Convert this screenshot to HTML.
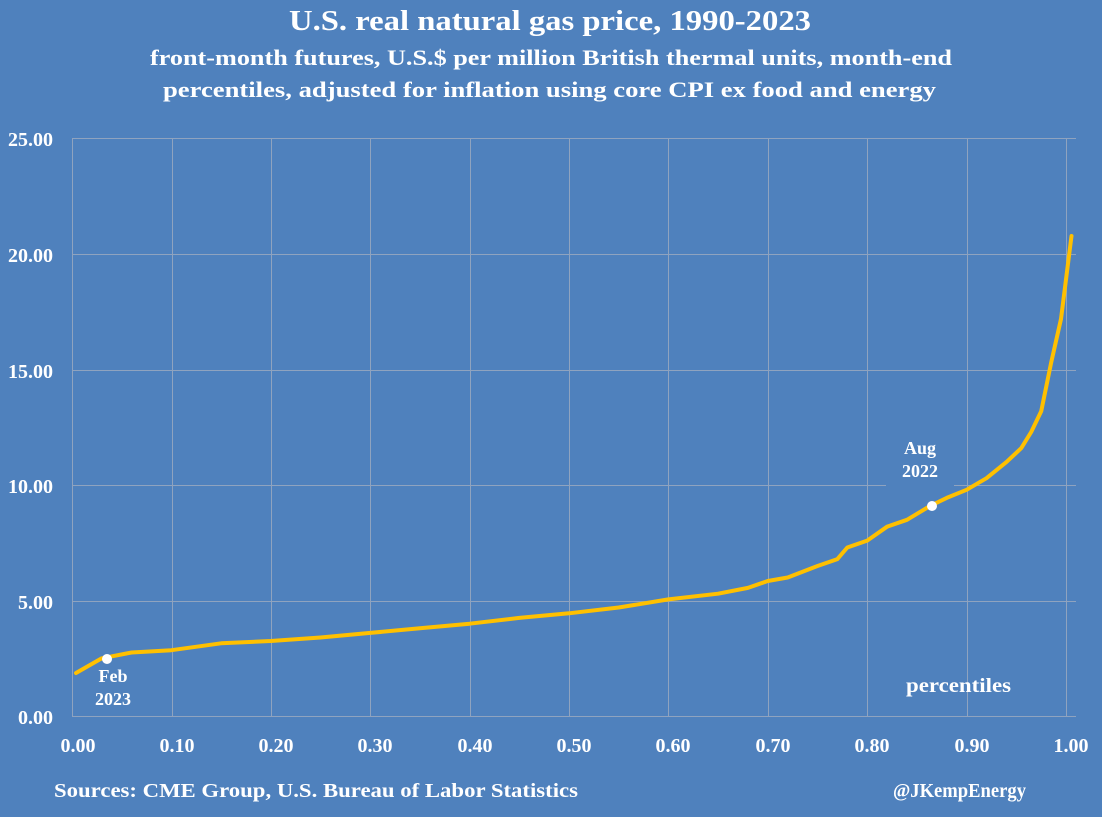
<!DOCTYPE html>
<html><head><meta charset="utf-8"><style>
html,body{margin:0;padding:0;background:#4f81bd;}
svg{display:block;font-family:"Liberation Serif",serif;font-weight:bold;fill:#fff;}
</style></head><body>
<svg width="1102" height="817" viewBox="0 0 1102 817" xmlns="http://www.w3.org/2000/svg">
<rect width="1102" height="817" fill="#4f81bd"/>
<text x="289" y="30" font-size="28" textLength="522" lengthAdjust="spacingAndGlyphs">U.S. real natural gas price, 1990-2023</text>
<text x="150" y="65" font-size="22" textLength="802" lengthAdjust="spacingAndGlyphs">front-month futures, U.S.$ per million British thermal units, month-end</text>
<text x="163" y="97" font-size="22" textLength="773" lengthAdjust="spacingAndGlyphs">percentiles, adjusted for inflation using core CPI ex food and energy</text>
<g stroke="#8fa3bf" stroke-width="1" fill="none">
<line x1="72" y1="138.5" x2="1076" y2="138.5"/>
<line x1="72" y1="254.5" x2="1076" y2="254.5"/>
<line x1="72" y1="370.5" x2="1076" y2="370.5"/>
<line x1="72" y1="485.5" x2="886" y2="485.5"/>
<line x1="954" y1="485.5" x2="1076" y2="485.5"/>
<line x1="72" y1="601.5" x2="1076" y2="601.5"/>
<line x1="72" y1="716.5" x2="1076" y2="716.5"/>
<line x1="72.5" y1="138" x2="72.5" y2="716"/>
<line x1="172.5" y1="138" x2="172.5" y2="716"/>
<line x1="271.5" y1="138" x2="271.5" y2="716"/>
<line x1="370.5" y1="138" x2="370.5" y2="716"/>
<line x1="470.5" y1="138" x2="470.5" y2="716"/>
<line x1="569.5" y1="138" x2="569.5" y2="716"/>
<line x1="668.5" y1="138" x2="668.5" y2="716"/>
<line x1="768.5" y1="138" x2="768.5" y2="716"/>
<line x1="867.5" y1="138" x2="867.5" y2="716"/>
<line x1="967.5" y1="138" x2="967.5" y2="716"/>
<line x1="1066.5" y1="138" x2="1066.5" y2="716"/>
</g>
<g font-size="20" text-anchor="end">
<text x="53" y="146">25.00</text>
<text x="53" y="262">20.00</text>
<text x="53" y="378">15.00</text>
<text x="53" y="493">10.00</text>
<text x="53" y="609">5.00</text>
<text x="53" y="724">0.00</text>
</g>
<g font-size="20" text-anchor="middle">
<text x="78" y="752">0.00</text>
<text x="177" y="752">0.10</text>
<text x="276" y="752">0.20</text>
<text x="375" y="752">0.30</text>
<text x="475" y="752">0.40</text>
<text x="574" y="752">0.50</text>
<text x="673" y="752">0.60</text>
<text x="773" y="752">0.70</text>
<text x="872" y="752">0.80</text>
<text x="972" y="752">0.90</text>
<text x="1071" y="752">1.00</text>
</g>
<polyline fill="none" stroke="#ffc000" stroke-width="4" stroke-linejoin="round" stroke-linecap="round"
points="76,673 101.8,658.3 131.6,652.5 171.4,650.2 221.1,643.3 270.8,641 320.5,637.5 370.2,632.9 419.9,628.3 469.6,623.7 519.3,617.9 569,613.3 618.7,607.5 668.4,599.4 718.1,593.7 747.9,587.9 767.8,581 787.7,577.5 817.5,566 837.4,559.1 847.3,547.5 867.2,540.6 887.1,526.7 907,519.8 930,506 946.7,497.9 966.6,489.8 986.5,478.2 1006.4,462.1 1021.3,448.1 1031.2,432 1041.2,411.3 1051.1,362.9 1061,319 1071.5,236"/>
<circle cx="107" cy="659" r="5" fill="#fff"/>
<circle cx="932" cy="506" r="5" fill="#fff"/>
<g font-size="18" text-anchor="middle">
<text x="113" y="682">Feb</text>
<text x="113" y="705">2023</text>
<text x="920" y="454">Aug</text>
<text x="920" y="477">2022</text>
</g>
<text x="906" y="692" font-size="20" textLength="105" lengthAdjust="spacingAndGlyphs">percentiles</text>
<text x="54" y="797" font-size="20" textLength="524" lengthAdjust="spacingAndGlyphs">Sources: CME Group, U.S. Bureau of Labor Statistics</text>
<text x="893" y="797" font-size="20" textLength="133" lengthAdjust="spacingAndGlyphs">@JKempEnergy</text>
</svg>
</body></html>
